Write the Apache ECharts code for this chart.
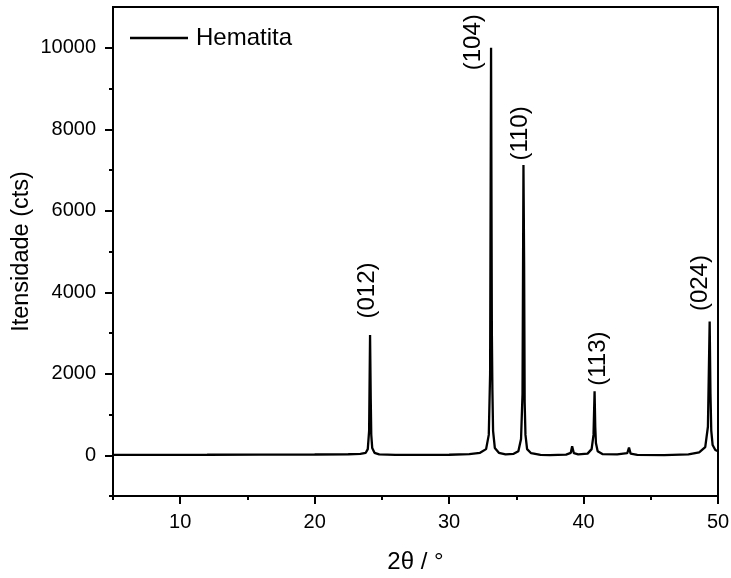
<!DOCTYPE html>
<html>
<head>
<meta charset="utf-8">
<script src="https://cdn.jsdelivr.net/npm/echarts@6/dist/echarts.min.js"></script>
<style>
  html, body { margin: 0; padding: 0; background: #fff; }
  #chart { width: 731px; height: 578px; }
</style>
</head>
<body>
<div id="chart"></div>
<script>
// X-ray diffraction pattern of hematite (2θ in degrees, intensity in counts)
const twoTheta = [
  5.0, 8.0, 12.0, 16.0, 20.0, 22.5, 23.4, 23.8, 23.95, 24.05, 24.12, 24.17, 24.21, 24.28, 24.45, 24.8,
  26.0, 28.0, 30.0, 31.5, 32.3, 32.75, 32.95, 33.05, 33.12, 33.18, 33.22, 33.27, 33.4, 33.7, 34.2,
  34.8, 35.15, 35.35, 35.46, 35.53, 35.58, 35.62, 35.68, 35.8, 36.1, 36.8, 37.5,
  38.7, 39.05, 39.15, 39.28, 39.6, 40.3, 40.6, 40.74, 40.82, 40.87, 40.92, 41.05, 41.4,
  42.5, 43.25, 43.38, 43.5, 44.0, 46.0, 47.8, 48.6, 49.05, 49.25, 49.38, 49.44, 49.5, 49.6, 49.8, 50.0
];
const counts = [
  10, 10, 12, 15, 18, 25, 35, 60, 150, 600, 2950, 1400, 500, 180, 60, 20,
  10, 10, 12, 30, 60, 150, 500, 2000, 10000, 3000, 1600, 600, 180, 60, 20,
  35, 100, 400, 1500, 7120, 4650, 1300, 500, 150, 50, 10, 5,
  15, 60, 220, 50, 20, 40, 150, 500, 1570, 700, 300, 100, 30,
  20, 50, 190, 40, 10, 5, 20, 70, 200, 700, 3280, 1500, 600, 250, 130, 100
];

// Indexed reflections
const peakTheta = [24.12, 33.12, 35.53, 40.82, 49.38];
const peakCounts = [2950, 10000, 7120, 1570, 3280];
const peakHkl = ['(012)', '(104)', '(110)', '(113)', '(024)'];

// Axis ticks
const xMajorTicks = [10, 20, 30, 40, 50];
const xMinorTicks = [5, 15, 25, 35, 45];
const yMajorTicks = [0, 2000, 4000, 6000, 8000, 10000];
const yMinorTicks = [-1000, 1000, 3000, 5000, 7000, 9000];

const seriesName = 'Hematita';
const xTitle = '2θ / °';
const yTitle = 'Itensidade (cts)';

const FONT = '"Liberation Sans", Arial, sans-serif';

// label placement around each peak: [distance above the peak, sideways shift]
const labelPlacement = [[16, -3], [-23, -18], [4, -3], [5, 4], [10, -9]];

const xRange = { min: 5, max: 50 };
const yRange = { min: -1000, max: 11000 };

const chart = echarts.init(document.getElementById('chart'), null, { renderer: 'canvas' });

const option = {
  animation: false,
  backgroundColor: '#ffffff',
  textStyle: { fontFamily: FONT },
  grid: {
    left: 113, right: 13, top: 7, bottom: 82,
    containLabel: false,
    outerBoundsMode: 'none',
    show: true, borderColor: '#000', borderWidth: 2, backgroundColor: 'transparent'
  },
  legend: {
    data: [seriesName],
    left: 130, top: 26, padding: 0,
    icon: 'rect', itemWidth: 58, itemHeight: 2.5,
    itemStyle: { color: '#000' },
    textStyle: { fontFamily: FONT, fontSize: 24, color: '#000', padding: [0, 0, 0, 3] }
  },
  xAxis: [
    {
      type: 'value', min: xRange.min, max: xRange.max,
      name: xTitle, nameLocation: 'middle', nameGap: 54,
      nameMoveOverlap: false,
      nameTextStyle: { fontFamily: FONT, fontSize: 24, color: '#000' },
      axisLine: { show: true, onZero: false, lineStyle: { color: '#000', width: 2 } },
      axisTick: { show: true, customValues: xMajorTicks, length: 8, lineStyle: { color: '#000', width: 2 } },
      axisLabel: { customValues: xMajorTicks, fontFamily: FONT, fontSize: 20, color: '#000', margin: 16 },
      splitLine: { show: false }
    },
    {
      type: 'value', min: xRange.min, max: xRange.max, position: 'bottom',
      axisLine: { show: false, onZero: false },
      axisTick: { show: true, customValues: xMinorTicks, length: 4, lineStyle: { color: '#000', width: 2 } },
      axisLabel: { show: false },
      splitLine: { show: false }
    }
  ],
  yAxis: [
    {
      type: 'value', min: yRange.min, max: yRange.max,
      name: yTitle, nameLocation: 'middle', nameGap: 79,
      nameMoveOverlap: false,
      nameTextStyle: { fontFamily: FONT, fontSize: 23.5, color: '#000' },
      axisLine: { show: true, onZero: false, lineStyle: { color: '#000', width: 2 } },
      axisTick: { show: true, customValues: yMajorTicks, length: 8, lineStyle: { color: '#000', width: 2 } },
      axisLabel: {
        customValues: yMajorTicks, fontFamily: FONT, fontSize: 20, color: '#000', margin: 17,
        formatter: v => String(v)
      },
      splitLine: { show: false }
    },
    {
      type: 'value', min: yRange.min, max: yRange.max, position: 'left',
      axisLine: { show: false, onZero: false },
      axisTick: { show: true, customValues: yMinorTicks, length: 4, lineStyle: { color: '#000', width: 2 } },
      axisLabel: { show: false },
      splitLine: { show: false }
    }
  ],
  series: [
    {
      name: seriesName,
      type: 'line',
      xAxisIndex: 0, yAxisIndex: 0,
      data: twoTheta.map((t, i) => [t, counts[i]]),
      symbol: 'none',
      smooth: false,
      lineStyle: { color: '#000', width: 2.3 },
      itemStyle: { color: '#000' },
      z: 3
    },
    {
      name: 'hkl',
      type: 'scatter',
      xAxisIndex: 0, yAxisIndex: 0,
      silent: true,
      symbolSize: 1,
      itemStyle: { color: 'transparent' },
      data: peakTheta.map((t, i) => ({
        value: [t, peakCounts[i]],
        name: peakHkl[i],
        label: {
          distance: labelPlacement[i][0],
          offset: [0, labelPlacement[i][1]]
        }
      })),
      label: {
        show: true,
        position: 'top',
        rotate: 90,
        align: 'left',
        verticalAlign: 'middle',
        formatter: p => p.name,
        fontFamily: FONT,
        fontSize: 24,
        color: '#000',
        opacity: 1,
        textBorderWidth: 0
      },
      z: 4
    }
  ]
};

chart.setOption(option);
</script>
</body>
</html>
